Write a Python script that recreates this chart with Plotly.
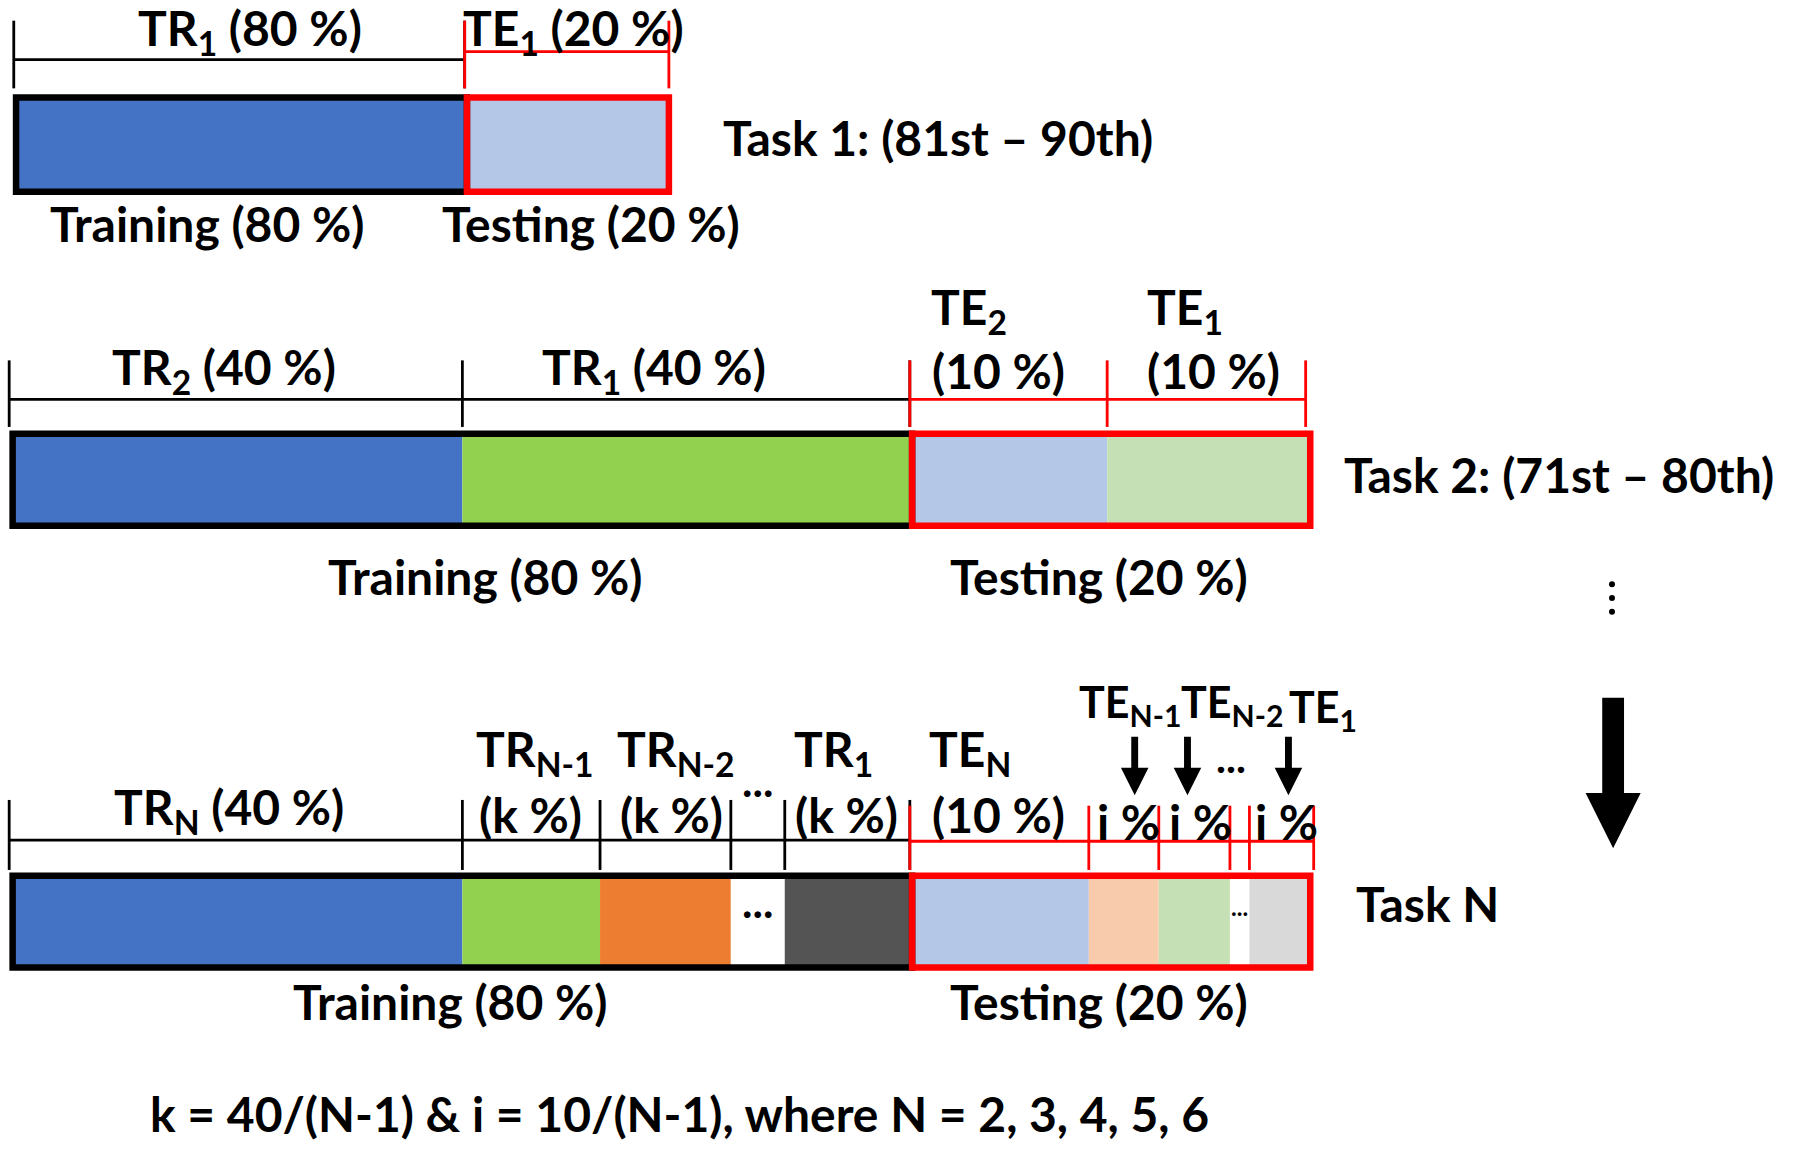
import plotly.graph_objects as go

# ---------------- data (labels / values) ----------------
task_titles = ["Task 1: (81st – 90th)", "Task 2: (71st – 80th)", "Task N"]

t1_train_top = ["TR<sub>1</sub> (80 %)"]
t1_test_top = ["TE<sub>1</sub> (20 %)"]

t2_train_top = ["TR<sub>2</sub> (40 %)", "TR<sub>1</sub> (40 %)"]
t2_test_names = ["TE<sub>2</sub>", "TE<sub>1</sub>"]
t2_test_pcts = ["(10 %)", "(10 %)"]

tN_train_names = ["TR<sub>N</sub> (40 %)", "TR<sub>N-1</sub>", "TR<sub>N-2</sub>", "TR<sub>1</sub>"]
tN_train_pcts = ["", "(k %)", "(k %)", "(k %)"]
tN_test_names = ["TE<sub>N</sub>", "TE<sub>N-1</sub>", "TE<sub>N-2</sub>", "TE<sub>1</sub>"]
tN_test_pcts = ["(10 %)", "i %", "i %", "i %"]

training_label = "Training (80 %)"
testing_label = "Testing (20 %)"
footnote = "k = 40/(N-1) &amp; i = 10/(N-1), where N = 2, 3, 4, 5, 6"

# ---------------- layout (diagram geometry in reference units) ----------------
W, H = 1568, 1002
FONT = "Lato, Roboto, sans-serif"
FS = 48
BLUE, GREEN, ORANGE, DGRAY = "#4472C4", "#92D050", "#ED7D31", "#545454"
LBLUE, LGREEN, LORANGE, LGRAY = "#B4C7E7", "#C5E0B4", "#F8CBAD", "#D9D9D9"
RED = "#FF0000"

fig = go.Figure()
shapes = []
ann = []


def seg(x0, x1, yc, h, color):
    fig.add_trace(go.Bar(orientation="h", base=[x0], x=[x1 - x0], y=[yc], width=h,
                         marker=dict(color=color, line=dict(width=0)),
                         showlegend=False, hoverinfo="skip"))


def rect(x0, x1, y0, y1, color, w=6.5):
    shapes.append(dict(type="rect", x0=x0, x1=x1, y0=y0, y1=y1,
                       line=dict(color=color, width=w), fillcolor="rgba(0,0,0,0)"))


def line(x0, y0, x1, y1, color, w=2.8):
    shapes.append(dict(type="line", x0=x0, x1=x1, y0=y0, y1=y1, line=dict(color=color, width=w)))


def text(t, x, y, size=FS, anchor="center", color="black"):
    ann.append(dict(text=t, x=x, y=y, xanchor=anchor, yanchor="middle", showarrow=False,
                    font=dict(family=FONT, size=size, color=color, weight="bold")))


def bracket(ticks, y, ytop, ybot, color):
    line(ticks[0], y, ticks[-1], y, color)
    for t in ticks:
        line(t, ytop, t, ybot, color)


def arrow(x, ytop, ybot, shaft, head, headlen):
    yh = ybot - headlen
    p = (f"M {x-shaft},{ytop} L {x+shaft},{ytop} L {x+shaft},{yh} L {x+head},{yh} "
         f"L {x},{ybot} L {x-head},{yh} L {x-shaft},{yh} Z")
    shapes.append(dict(type="path", path=p, fillcolor="black", line=dict(color="black", width=0)))


# ---- Task 1 ----
y0, y1 = 85, 167
xb = [14, 407, 583]
seg(xb[0], xb[1], (y0 + y1) / 2, y1 - y0, BLUE)
seg(xb[1], xb[2], (y0 + y1) / 2, y1 - y0, LBLUE)
rect(xb[0], xb[1], y0, y1, "black")
rect(xb[1], xb[2], y0, y1, RED)
bracket([12, 405], 52, 18, 77, "black")
bracket([405, 583], 45, 18, 77, RED)
text(t1_train_top[0], 218, 27)
text(t1_test_top[0], 500, 27)
text(training_label, 180, 195)
text(testing_label, 515, 195)
text(task_titles[0], 628, 120, anchor="left")

# ---- Task 2 ----
y0, y1 = 378, 458
xb = [11, 403, 795, 965, 1142]
cols = [BLUE, GREEN, LBLUE, LGREEN]
for i in range(4):
    seg(xb[i], xb[i + 1], (y0 + y1) / 2, y1 - y0, cols[i])
rect(11, 795, y0, y1, "black")
rect(795, 1142, y0, y1, RED)
bracket([8, 403, 793], 348, 314, 372, "black")
bracket([793, 965, 1138], 348, 314, 372, RED)
text(t2_train_top[0], 195, 322)
text(t2_train_top[1], 570, 322)
text(t2_test_names[0], 810, 270, anchor="left")
text(t2_test_names[1], 998, 270, anchor="left")
text(t2_test_pcts[0], 870, 323)
text(t2_test_pcts[1], 1058, 323)
text(training_label, 423, 502)
text(testing_label, 958, 502)
text(task_titles[1], 1170, 413, anchor="left")
fig.add_trace(go.Scatter(x=[1405, 1405, 1405], y=[509, 521, 533], mode="markers",
                         marker=dict(color="black", size=6), showlegend=False, hoverinfo="skip"))

# ---- Task N ----
y0, y1 = 763, 843
xb = [11, 403, 523, 637, 684, 795, 949, 1010, 1072, 1089, 1142]
cols = [BLUE, GREEN, ORANGE, "white", DGRAY, LBLUE, LORANGE, LGREEN, "white", LGRAY]
for i in range(10):
    seg(xb[i], xb[i + 1], (y0 + y1) / 2, y1 - y0, cols[i])
rect(11, 795, y0, y1, "black")
rect(795, 1142, y0, y1, RED)
bracket([8, 403, 523, 637, 684, 793], 732, 697, 758, "black")
bracket([793, 949, 1010, 1072, 1089, 1145], 733, 702, 758, RED)
text(tN_train_names[0], 200, 706)
text(tN_train_names[1], 413, 655, anchor="left")
text(tN_train_pcts[1], 462, 710)
text(tN_train_names[2], 536, 655, anchor="left")
text(tN_train_pcts[2], 585, 710)
text("...", 660, 680, size=44)
text(tN_train_names[3], 690, 655, anchor="left")
text(tN_train_pcts[3], 738, 710)
text(tN_test_names[0], 808, 655, anchor="left")
text(tN_test_pcts[0], 870, 710)
text(tN_test_names[1], 939, 614, anchor="left", size=43)
text(tN_test_names[2], 1028, 614, anchor="left", size=43)
text(tN_test_names[3], 1122, 618, anchor="left", size=43)
text(tN_test_pcts[1], 984, 716)
text(tN_test_pcts[2], 1046, 716)
text(tN_test_pcts[3], 1121, 716)
text("...", 1073, 660, size=42)
text("...", 660, 785, size=44)
text("...", 1080, 790, size=24)
for ax in [989, 1035, 1123]:
    arrow(ax, 642, 693, 3, 12, 24)
arrow(1406, 608, 739, 9.5, 24, 48)
text(training_label, 392, 873)
text(testing_label, 958, 873)
text(task_titles[2], 1180, 787, anchor="left")

# ---- footnote ----
text(footnote, 592, 970)

fig.update_layout(
    width=1799, height=1150, margin=dict(l=0, r=0, t=0, b=0),
    paper_bgcolor="white", plot_bgcolor="white", barmode="overlay",
    xaxis=dict(range=[0, W], visible=False, fixedrange=True),
    yaxis=dict(range=[H, 0], visible=False, fixedrange=True),
    shapes=shapes, annotations=ann, showlegend=False,
)
fig.write_html("out.html", config={"displayModeBar": False},
               post_script="document.body.style.margin='0px';")
